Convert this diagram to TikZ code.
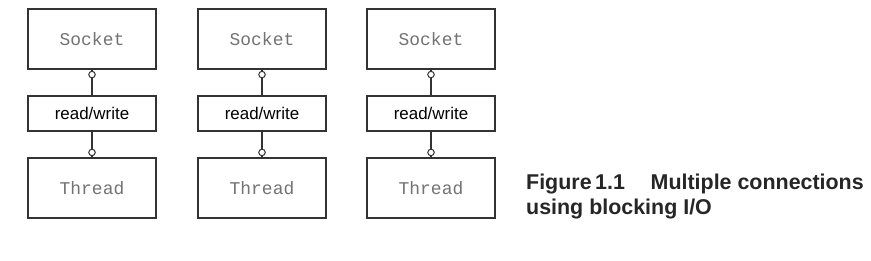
\documentclass[tikz,border=0pt]{standalone}
\usepackage{fontspec}
\setmainfont{Liberation Sans}
\newfontfamily\monof{Liberation Mono}
\begin{document}
\begin{tikzpicture}[x=1bp,y=-1bp,
  box/.style={draw=black!80, line width=1.1bp, minimum width=128bp, inner sep=0pt},
  big/.style={box, minimum height=60bp, font=\monof\fontsize{18}{20}\selectfont, text=black!55},
  rw/.style={box, minimum height=35bp, font=\fontsize{17}{20}\selectfont, text=black},
  link/.style={draw=black!80, line width=1.1bp},
  dot/.style={circle, draw=black!80, line width=1bp, fill=white, inner sep=0pt, minimum size=6.5bp}]
\useasboundingbox[fill=white] (0,0) rectangle (871,260);
\foreach \i/\x in {1/92,2/262,3/431}{
  \node[big] (s\i) at (\x,39) {Socket};
  \node[rw] (r\i) at (\x,113.5) {read/write};
  \node[big] (t\i) at (\x,188) {Thread};
  \path[link] (s\i.south) -- (r\i.north);
  \path[link] (r\i.south) -- (t\i.north);
  \node[dot] (a\i) at ([yshift=-5bp]s\i.south) {};
  \node[dot] (b\i) at ([yshift=5bp]t\i.north) {};
}
\node[anchor=base west, align=left, inner sep=0pt, text=black!85,
  font=\bfseries\fontsize{21.5}{25}\selectfont] (cap) at (526,214)
  {Figure\,1.1\hspace{1.2em}Multiple connections\\using blocking I/O};
\end{tikzpicture}
\end{document}
